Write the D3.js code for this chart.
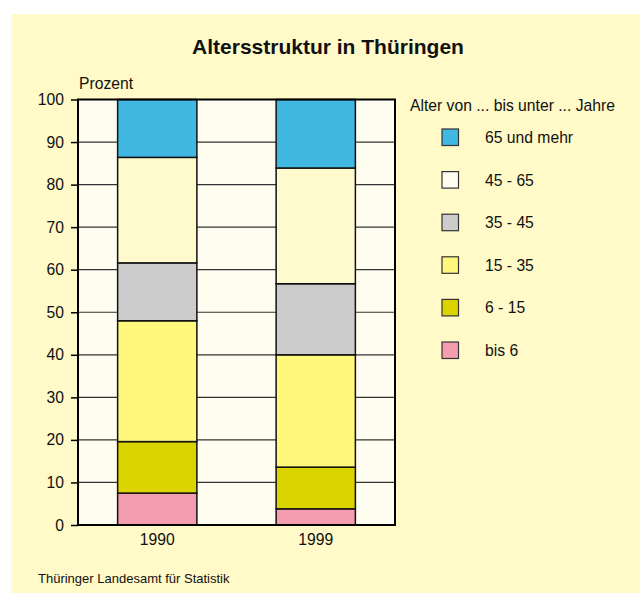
<!DOCTYPE html>
<html>
<head>
<meta charset="utf-8">
<script src="https://cdn.jsdelivr.net/npm/d3@7"></script>
<style>
  body { margin: 0; background: #fff; }
  svg { display: block; font-family: "Liberation Sans", Arial, sans-serif; }
</style>
</head>
<body>
<div id="chart"></div>
<script>
const years = ["1990", "1999"];
const groups = ["bis 6", "6 - 15", "15 - 35", "35 - 45", "45 - 65", "65 und mehr"];
const values1990 = [7.5, 12.1, 28.4, 13.6, 24.8, 13.6];
const values1999 = [3.8, 9.8, 26.4, 16.7, 27.2, 16.1];
const colors = ["#f49cb0", "#dcd400", "#fff87c", "#cccccc", "#fffacd", "#40b8e2"];
const yTicks = [0, 10, 20, 30, 40, 50, 60, 70, 80, 90, 100];

function drawChart(to) {
  const W = 640, H = 593;
  const plot = {left: 78, right: 395, top: 99.5, bottom: 525};
  const fs = 15.7;

  const svg = d3.select(to).append("svg")
      .attr("width", W)
      .attr("height", H);

  // page background
  svg.append("rect")
      .attr("x", 11).attr("y", 14)
      .attr("width", W - 11).attr("height", H - 14)
      .attr("fill", "#fffac8");

  svg.append("text")
      .attr("x", 328).attr("y", 54)
      .attr("text-anchor", "middle")
      .attr("font-size", 21)
      .attr("font-weight", "bold")
      .attr("fill", "#111")
      .text("Altersstruktur in Thüringen");

  const x = d3.scaleBand().domain(years)
      .range([plot.left, plot.right]).paddingInner(0.5).paddingOuter(0.25);
  const y = d3.scaleLinear().domain([0, 100]).range([plot.bottom, plot.top]);

  // plot background
  svg.append("rect")
      .attr("x", plot.left).attr("y", plot.top)
      .attr("width", plot.right - plot.left).attr("height", plot.bottom - plot.top)
      .attr("fill", "#fffdf0");

  // gridlines
  svg.append("g")
      .selectAll("line")
      .data(yTicks.slice(1))
      .enter()
      .append("line")
      .attr("x1", plot.left).attr("x2", plot.right)
      .attr("y1", d => y(d)).attr("y2", d => y(d))
      .attr("stroke", "#333").attr("stroke-width", 1.2);

  // stacked bars
  const rows = years.map((yr, i) => {
    const o = {year: yr};
    const vals = i === 0 ? values1990 : values1999;
    groups.forEach((g, j) => o[g] = vals[j]);
    return o;
  });
  const stack = d3.stack().keys(groups)(rows);

  svg.append("g")
      .selectAll("g")
      .data(stack)
      .enter()
      .append("g")
      .attr("fill", (d, i) => colors[i])
      .selectAll("rect")
      .data(d => d)
      .enter()
      .append("rect")
      .attr("x", d => x(d.data.year))
      .attr("y", d => y(d[1]))
      .attr("width", x.bandwidth())
      .attr("height", d => y(d[0]) - y(d[1]))
      .attr("stroke", "#111")
      .attr("stroke-width", 1.5);

  // frame
  svg.append("rect")
      .attr("x", plot.left).attr("y", plot.top)
      .attr("width", plot.right - plot.left).attr("height", plot.bottom - plot.top)
      .attr("fill", "none")
      .attr("stroke", "#000").attr("stroke-width", 2);

  const yAxis = d3.axisLeft(y).tickValues(yTicks).tickSize(7).tickPadding(7);
  const ya = svg.append("g")
      .attr("transform", "translate(" + plot.left + ",0)")
      .call(yAxis);
  ya.select(".domain").remove();
  ya.selectAll("line").attr("stroke", "#000").attr("stroke-width", 1.5);
  ya.selectAll("text").attr("font-size", fs).attr("fill", "#111")
      .attr("font-family", "Liberation Sans, Arial, sans-serif");

  const xAxis = d3.axisBottom(x).tickSize(0).tickPadding(9);
  const xa = svg.append("g")
      .attr("transform", "translate(0," + plot.bottom + ")")
      .call(xAxis);
  xa.select(".domain").remove();
  xa.selectAll("text").attr("font-size", fs).attr("fill", "#111")
      .attr("font-family", "Liberation Sans, Arial, sans-serif");

  svg.append("text")
      .attr("x", 79).attr("y", 89)
      .attr("font-size", fs)
      .attr("fill", "#111")
      .text("Prozent");

  // legend, top group first
  const legend = svg.append("g");
  legend.append("text")
      .attr("x", 410).attr("y", 111)
      .attr("font-size", fs)
      .attr("fill", "#111")
      .text("Alter von ... bis unter ... Jahre");

  const order = d3.range(groups.length).reverse();
  const item = legend.selectAll(".item")
      .data(order)
      .enter()
      .append("g")
      .attr("class", "item")
      .attr("transform", (d, i) => "translate(442," + (129 + i * 42.6) + ")");
  item.append("rect")
      .attr("width", 16.5).attr("height", 16.5)
      .attr("fill", d => d === 4 ? "#fffdf0" : colors[d])
      .attr("stroke", "#333").attr("stroke-width", 1.2);
  item.append("text")
      .attr("x", 43).attr("y", 14)
      .attr("font-size", fs)
      .attr("fill", "#111")
      .text(d => groups[d]);

  svg.append("text")
      .attr("x", 38).attr("y", 582.5)
      .attr("font-size", 13)
      .attr("fill", "#111")
      .text("Thüringer Landesamt für Statistik");
}

drawChart("#chart");
</script>
</body>
</html>
